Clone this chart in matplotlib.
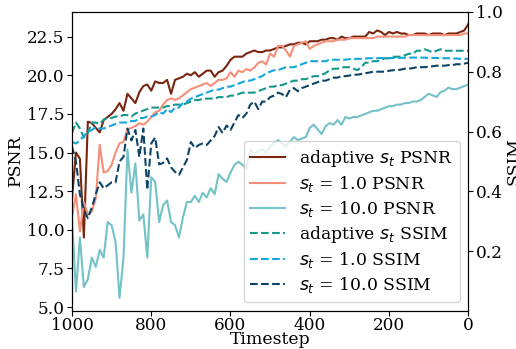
import matplotlib
matplotlib.use("Agg")
import matplotlib.pyplot as plt

plt.rcParams['font.family'] = 'DejaVu Serif'
plt.rcParams['mathtext.fontset'] = 'dejavusans'

timesteps = list(range(1000, -1, -10))

psnr_adaptive = [
    12.0, 15.0, 14.6, 9.5, 17.0, 16.9, 16.6, 16.3, 17.1, 17.3,
    17.5, 17.8, 18.2, 17.7, 18.8, 18.5, 18.2, 18.9, 19.3, 19.4,
    19.0, 19.6, 19.5, 19.5, 19.7, 18.8, 19.7, 19.8, 19.9, 20.1,
    20.0, 20.2, 19.9, 20.1, 20.3, 20.3, 19.9, 20.2, 20.3, 20.6,
    21.0, 21.2, 21.2, 21.2, 21.4, 21.5, 21.6, 21.5, 21.5, 21.6,
    21.6, 21.7, 21.8, 21.8, 21.9, 22.0, 22.0, 22.1, 22.1, 22.0,
    22.2, 22.2, 22.2, 22.3, 22.3, 22.4, 22.4, 22.3, 22.5, 22.4,
    22.4, 22.5, 22.5, 22.5, 22.5, 22.8, 22.7, 22.9, 22.8, 22.6,
    22.8, 22.7, 22.8, 22.7, 22.7, 22.6, 22.6, 22.7, 22.7, 22.7,
    22.6, 22.7, 22.7, 22.7, 22.6, 22.7, 22.7, 22.7, 22.8, 22.9,
    23.3,
]
psnr_s1 = [
    10.8, 12.3, 9.9, 11.8, 11.0, 11.2, 12.0, 15.5, 13.7, 13.8,
    14.2, 15.0, 15.6, 15.7, 16.5, 16.6, 16.7, 16.9, 16.8, 17.0,
    17.3, 17.6, 17.7, 18.1, 18.4, 18.5, 18.4, 18.5, 18.7, 18.9,
    19.1, 19.2, 19.3, 19.4, 19.5, 19.3, 19.5, 19.7, 19.7, 19.8,
    20.2, 19.9, 20.3, 20.2, 20.4, 20.3, 20.5, 20.8, 20.9, 20.7,
    21.4, 21.2, 21.9, 21.9, 21.6, 21.2, 21.9, 22.0, 22.1, 22.2,
    21.7, 21.9, 22.0, 22.1, 22.2, 22.2, 22.2, 22.3, 22.3, 22.3,
    22.4, 22.4, 22.4, 22.4, 22.4, 22.4, 22.4, 22.5, 22.5, 22.5,
    22.5, 22.5, 22.5, 22.5, 22.5, 22.6, 22.6, 22.6, 22.6, 22.6,
    22.6, 22.6, 22.6, 22.6, 22.6, 22.6, 22.6, 22.6, 22.6, 22.7,
    22.7,
]
psnr_s10 = [
    10.8, 6.0, 9.5, 6.3, 6.8, 8.2, 7.6, 8.7, 8.2, 10.5,
    10.3, 9.2, 5.6, 8.2, 15.2, 12.4, 14.3, 10.6, 11.0, 8.2,
    13.4, 13.1, 10.5, 11.6, 11.9, 10.5, 10.3, 9.5, 10.8, 11.8,
    11.8, 12.2, 11.8, 12.4, 12.1, 12.7, 12.3, 13.6, 13.3, 13.1,
    13.7, 14.2, 14.4, 14.2, 14.0, 15.2, 14.9, 15.1, 15.2, 15.0,
    15.4, 15.6, 15.8, 15.6, 15.4, 15.7, 16.0, 15.8, 15.9, 16.0,
    16.6, 16.8, 16.5, 16.2, 16.7, 16.9, 16.8, 17.1, 16.8, 17.3,
    17.2, 17.3, 17.3, 17.4, 17.5, 17.6, 17.7, 17.7, 17.8, 17.9,
    18.0, 18.0, 18.1, 18.1, 18.2, 18.2, 18.3, 18.3, 18.4, 18.6,
    18.8, 18.7, 18.6, 18.9, 19.0, 19.2, 19.1, 19.1, 19.2, 19.3,
    19.4,
]

ssim_adaptive = [
    0.595, 0.63, 0.61, 0.58, 0.595, 0.63, 0.63, 0.625, 0.64, 0.645,
    0.645, 0.65, 0.65, 0.655, 0.655, 0.65, 0.66, 0.665, 0.67, 0.675,
    0.68, 0.68, 0.68, 0.68, 0.685, 0.685, 0.69, 0.69, 0.69, 0.695,
    0.70, 0.705, 0.705, 0.71, 0.71, 0.71, 0.71, 0.715, 0.715, 0.715,
    0.72, 0.72, 0.725, 0.73, 0.73, 0.73, 0.73, 0.735, 0.74, 0.745,
    0.75, 0.75, 0.755, 0.755, 0.76, 0.765, 0.77, 0.77, 0.775, 0.775,
    0.78, 0.785, 0.785, 0.79, 0.795, 0.805, 0.81, 0.81, 0.815, 0.815,
    0.815, 0.81, 0.805, 0.815, 0.83, 0.83, 0.835, 0.835, 0.84, 0.845,
    0.845, 0.85, 0.85, 0.85, 0.855, 0.86, 0.86, 0.87, 0.87, 0.875,
    0.87, 0.865, 0.87, 0.875, 0.87, 0.87, 0.87, 0.87, 0.87, 0.87,
    0.87,
]
ssim_s1 = [
    0.565, 0.56, 0.57, 0.585, 0.60, 0.605, 0.615, 0.61, 0.61, 0.615,
    0.62, 0.625, 0.63, 0.63, 0.63, 0.635, 0.635, 0.645, 0.645, 0.65,
    0.65, 0.655, 0.665, 0.66, 0.675, 0.665, 0.68, 0.68, 0.695, 0.70,
    0.71, 0.715, 0.72, 0.725, 0.73, 0.735, 0.74, 0.74, 0.745, 0.75,
    0.75, 0.755, 0.76, 0.765, 0.77, 0.77, 0.775, 0.78, 0.785, 0.795,
    0.80, 0.805, 0.805, 0.81, 0.815, 0.815, 0.815, 0.82, 0.825, 0.83,
    0.835, 0.835, 0.835, 0.835, 0.835, 0.84, 0.84, 0.84, 0.84, 0.84,
    0.842, 0.842, 0.843, 0.843, 0.844, 0.845, 0.845, 0.845, 0.846, 0.845,
    0.845, 0.846, 0.846, 0.846, 0.847, 0.847, 0.847, 0.847, 0.847, 0.847,
    0.846, 0.846, 0.846, 0.845, 0.845, 0.845, 0.844, 0.844, 0.843, 0.843,
    0.843,
]
ssim_s10 = [
    0.55, 0.50, 0.39, 0.34, 0.31, 0.345, 0.39, 0.43, 0.41, 0.42,
    0.43, 0.43, 0.50, 0.515, 0.61, 0.57, 0.605, 0.515, 0.61, 0.405,
    0.56, 0.58, 0.49, 0.495, 0.51, 0.48, 0.465, 0.455, 0.48, 0.505,
    0.565, 0.545, 0.555, 0.56, 0.555, 0.57, 0.585, 0.615, 0.595, 0.62,
    0.605, 0.63, 0.655, 0.645, 0.66, 0.69, 0.70, 0.675, 0.70, 0.70,
    0.715, 0.72, 0.73, 0.725, 0.715, 0.74, 0.745, 0.735, 0.745, 0.75,
    0.755, 0.76, 0.765, 0.77, 0.77, 0.775, 0.78, 0.78, 0.785, 0.785,
    0.787, 0.79, 0.79, 0.792, 0.795, 0.797, 0.80, 0.80, 0.80, 0.80,
    0.803, 0.805, 0.805, 0.807, 0.81, 0.81, 0.812, 0.815, 0.815, 0.815,
    0.817, 0.818, 0.82, 0.82, 0.82, 0.822, 0.822, 0.825, 0.825, 0.827,
    0.83,
]

fig = plt.figure(figsize=(5.16, 3.49), dpi=100)
ax = fig.add_axes([0.1395, 0.109, 0.768, 0.857])
ax2 = ax.twinx()

l1, = ax.plot(timesteps, psnr_adaptive, color='#7a2510', lw=1.5, label=r'adaptive $s_t$ PSNR')
l2, = ax.plot(timesteps, psnr_s1, color='#f4907a', lw=1.5, label=r'$s_t$ = 1.0 PSNR')
l3, = ax.plot(timesteps, psnr_s10, color='#72c2c7', lw=1.5, label=r'$s_t$ = 10.0 PSNR')
l4, = ax2.plot(timesteps, ssim_adaptive, '--', color='#15978c', lw=1.5, label=r'adaptive $s_t$ SSIM')
l5, = ax2.plot(timesteps, ssim_s1, '--', color='#14a6dc', lw=1.5, label=r'$s_t$ = 1.0 SSIM')
l6, = ax2.plot(timesteps, ssim_s10, '--', color='#0c4468', lw=1.5, label=r'$s_t$ = 10.0 SSIM')

ax.set_xlim(1000, 0)
ax.set_ylim(4.75, 24.1)
ax2.set_ylim(0.0, 1.0)
ax.set_xticks([1000, 800, 600, 400, 200, 0])
ax.set_yticks([5.0, 7.5, 10.0, 12.5, 15.0, 17.5, 20.0, 22.5])
ax2.set_yticks([0.2, 0.4, 0.6, 0.8, 1.0])
ax.tick_params(axis='y', labelsize=12.2, pad=2)
ax.tick_params(axis='x', labelsize=12.2, pad=1)
ax2.tick_params(labelsize=12.2, pad=2)
ax.set_xlabel('Timestep', fontsize=12.4, labelpad=-2.0)
ax.set_ylabel('PSNR', fontsize=12.4, labelpad=2)
ax2.set_ylabel('SSIM', fontsize=12.4, labelpad=2)

ax2.legend(handles=[l1, l2, l3, l4, l5, l6], loc='lower right',
           fontsize=12.4, labelspacing=0.3)

fig.savefig('out.png', dpi=100)
